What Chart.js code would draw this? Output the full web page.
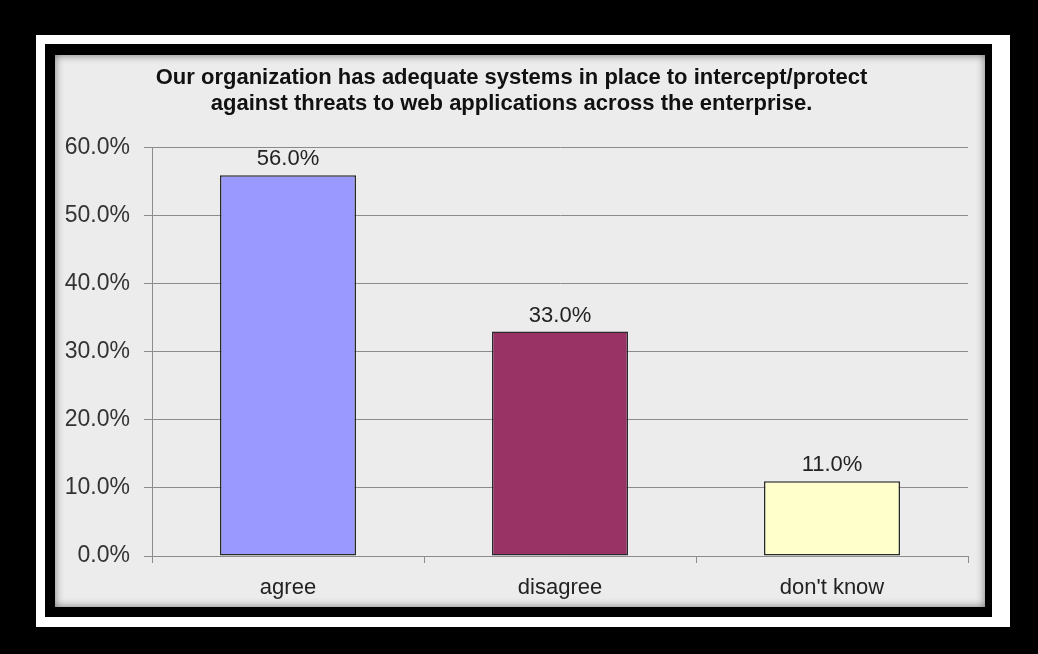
<!DOCTYPE html>
<html>
<head>
<meta charset="utf-8">
<script src="https://cdn.jsdelivr.net/npm/chart.js@4.4.1/dist/chart.umd.min.js"></script>
<style>
  html, body { margin: 0; padding: 0; background: #000; }
  #wrap { width: 1038px; height: 654px; }
</style>
</head>
<body>
<div id="wrap"><canvas id="surveyChart" width="1038" height="654"></canvas></div>
<script>
// data
const categories = ["agree", "disagree", "don't know"];
const answerShare = [56.0, 33.0, 11.0];
const barColors = ["#9999ff", "#993366", "#ffffcc"];
const titleLines = [
  "Our organization has adequate systems in place to intercept/protect",
  "against threats to web applications across the enterprise."
];
const yMax = 60;
const yStep = 10;

Chart.defaults.font.family = "'Liberation Sans', Arial, sans-serif";
Chart.defaults.color = "#222";

// black / white / black frame and the grey panel with its inner shadow
const framePlugin = {
  id: "frame",
  beforeDraw(chart) {
    const ctx = chart.ctx;
    ctx.save();
    ctx.fillStyle = "#000";
    ctx.fillRect(0, 0, chart.width, chart.height);
    ctx.fillStyle = "#fff";
    ctx.fillRect(36, 35, 974, 592);
    ctx.fillStyle = "#000";
    ctx.fillRect(45, 44, 947, 573);
    ctx.fillStyle = "#ececec";
    ctx.fillRect(55, 55, 930, 552);
    // inset shadow
    ctx.beginPath();
    ctx.rect(55, 55, 930, 552);
    ctx.clip();
    ctx.shadowColor = "rgba(0,0,0,0.5)";
    ctx.shadowBlur = 8;
    ctx.strokeStyle = "#000";
    ctx.lineWidth = 10;
    ctx.strokeRect(50, 50, 940, 562);
    ctx.restore();
  }
};

// value labels above the bars
const valueLabels = {
  id: "valueLabels",
  afterDatasetsDraw(chart) {
    const ctx = chart.ctx;
    const meta = chart.getDatasetMeta(0);
    ctx.save();
    ctx.font = "22px 'Liberation Sans', Arial, sans-serif";
    ctx.fillStyle = "#222";
    ctx.textAlign = "center";
    ctx.textBaseline = "middle";
    meta.data.forEach((bar, i) => {
      ctx.fillText(answerShare[i].toFixed(1) + "%", bar.x, bar.y - 16);
    });
    ctx.restore();
  }
};

const ctx = document.getElementById("surveyChart").getContext("2d");
const chart = new Chart(ctx, {
  type: "bar",
  data: {
    labels: categories,
    datasets: [{
      data: answerShare,
      backgroundColor: barColors,
      borderColor: "#2a2a2a",
      borderWidth: 1.5,
      borderSkipped: false,
      barPercentage: 0.5,
      categoryPercentage: 1.0
    }]
  },
  options: {
    responsive: false,
    animation: false,
    devicePixelRatio: 1,
    layout: { padding: { left: 55, right: 70, top: 65, bottom: 45 } },
    plugins: {
      legend: { display: false },
      tooltip: { enabled: false },
      title: {
        display: true,
        text: titleLines,
        color: "#111",
        font: { size: 22, weight: "bold", lineHeight: 1.18 },
        padding: { top: 0, bottom: 31 }
      }
    },
    scales: {
      y: {
        min: 0,
        max: yMax,
        ticks: {
          stepSize: yStep,
          color: "#333",
          font: { size: 23 },
          padding: 14,
          callback: (v) => v.toFixed(1) + "%"
        },
        grid: { color: "#8c8c8c", lineWidth: 1, tickLength: 8 },
        border: { color: "#8c8c8c", width: 1 },
        afterFit: (scale) => { scale.width = 97; }
      },
      x: {
        ticks: { color: "#222", font: { size: 22 }, padding: 12 },
        grid: { drawOnChartArea: false, color: "#8c8c8c", tickLength: 7, offset: true },
        border: { color: "#8c8c8c", width: 1 },
        afterFit: (scale) => { scale.height = 53; }
      }
    }
  },
  plugins: [framePlugin, valueLabels]
});
</script>
</body>
</html>
